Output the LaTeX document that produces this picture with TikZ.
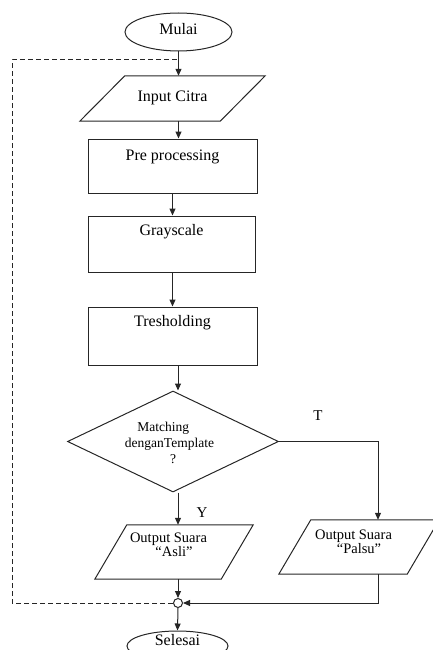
\documentclass[tikz,border=0pt]{standalone}
\usepackage{fontspec}
\setmainfont{Liberation Serif}
\usetikzlibrary{arrows.meta,shapes.geometric,calc}
\newcommand\ntxt[3][110pt]{\raisebox{#2}[0pt][0pt]{\parbox[t]{#1}{\lineskiplimit -20pt\centering #3}}}
\begin{document}
\begin{tikzpicture}[x=1pt,y=-1pt,
  ln/.style={draw=black!85, line width=1pt},
  arr/.style={ln, -{Triangle[length=7pt,width=6pt]}},
  dsh/.style={ln, dash pattern=on 5pt off 3pt},
  bigfont/.style={font=\fontsize{16}{19}\selectfont},
  term/.style={ellipse, ln, inner sep=0pt, bigfont},
  box/.style={rectangle, ln, inner sep=0pt, bigfont},
  ghost/.style={rectangle, draw=none, inner sep=0pt, bigfont},
  outfont/.style={font=\fontsize{14.5}{14}\selectfont},
  dec/.style={diamond, ln, inner sep=0pt, aspect=2.1, font=\fontsize{13.5}{16}\selectfont},
  lbl/.style={anchor=base, inner sep=0pt, font=\fontsize{15}{17}\selectfont}]
\useasboundingbox (0,0) rectangle (432,650);

\node[term, minimum width=107pt, minimum height=38pt] (mulai) at (178.5,32) {\ntxt[60pt]{-3pt}{Mulai}};

\node[ghost, minimum width=185pt, minimum height=45pt] (in) at (172.5,98.5) {\ntxt{-3.2pt}{Input Citra}};
\draw[ln] (in.south west) -- ($(in.north west)+(45,0)$) -- (in.north east) -- ($(in.south east)+(-45,0)$) -- cycle;

\node[box, minimum width=169pt, minimum height=54pt] (pre) at (172.5,166) {\ntxt{5.5pt}{Pre processing}};
\node[box, minimum width=167pt, minimum height=56pt] (gray) at (171.5,244) {\ntxt{8.5pt}{Grayscale}};
\node[box, minimum width=169pt, minimum height=58pt] (tres) at (172.5,336) {\ntxt{10pt}{Tresholding}};

\node[dec, minimum width=211pt, minimum height=101pt] (dia) at (173,441.5) {\ntxt{10.5pt}{Matching\newline denganTemplate\newline ?}};

\node[ghost, outfont, minimum width=158pt, minimum height=54pt] (asli) at (174,552) {\ntxt{9.5pt}{Output Suara\newline “Asli”}};
\draw[ln] (asli.south west) -- ($(asli.north west)+(32,0)$) -- (asli.north east) -- ($(asli.south east)+(-32,0)$) -- cycle;

\node[ghost, outfont, minimum width=160pt, minimum height=54pt] (palsu) at (359,547) {\ntxt{8pt}{Output Suara\newline “Palsu”}};
\draw[ln] (palsu.south west) -- ($(palsu.north west)+(32,0)$) -- (palsu.north east) -- ($(palsu.south east)+(-32,0)$) -- cycle;

\node[circle, ln, fill=white, minimum size=9pt, inner sep=0pt] (j) at (178,603) {};
\node[term, minimum width=101pt, minimum height=30pt] (sel) at (177.5,646) {\ntxt[60pt]{1pt}{Selesai}};

\coordinate (pr) at (378,603);
\coordinate (dl) at (12,60);

\node[lbl] (ylab) at (202,517) {Y};
\node[lbl] (tlab) at (318,420) {T};

\draw[arr] (mulai.south) -- (mulai.south |- in.north);
\draw[arr] (in.south -| mulai.south) -- (pre.north -| mulai.south);
\draw[arr] (pre.south) -- (gray.north -| pre.south);
\draw[arr] (gray.south -| pre.south) -- (tres.north -| pre.south);
\draw[arr] (tres.south -| j) -- (dia.north -| j);
\draw[arr] (dia.south -| j) -- (asli.north -| j);
\draw[arr] (dia.east) -| (pr |- palsu.north);
\draw[arr] (pr |- palsu.south) -- (pr) -- (j.east);
\draw[arr] (asli.south -| j) -- (j.north);
\draw[arr] (j.south) -- (sel.north);
\draw[dsh] (j.west) -- (j.west -| dl) -- (dl) -- (dl -| mulai.south);
\end{tikzpicture}
\end{document}
